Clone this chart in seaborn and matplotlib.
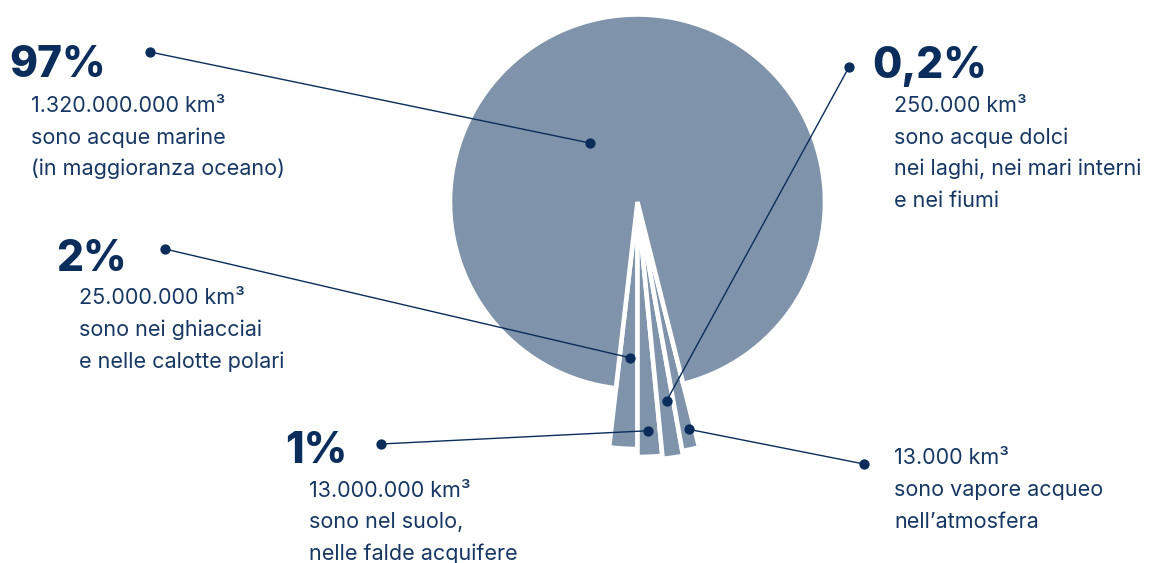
import numpy as np
import pandas as pd
import matplotlib
matplotlib.use("Agg")
import matplotlib.pyplot as plt
import seaborn as sns

# dati: ordine delle fette nel pie (da sinistra a destra nel ventaglio, poi il 97%)
pct_labels = ["2%", "1%", "0,2%", "", "97%"]
volumes = ["25.000.000 km³", "13.000.000 km³", "250.000 km³", "13.000 km³", "1.320.000.000 km³"]
descr = [
    ["sono nei ghiacciai", "e nelle calotte polari"],
    ["sono nel suolo,", "nelle falde acquifere"],
    ["sono acque dolci", "nei laghi, nei mari interni", "e nei fiumi"],
    ["sono vapore acqueo", "nell’atmosfera"],
    ["sono acque marine", "(in maggioranza oceano)"],
]
slice_deg = [6.6, 5.6, 4.6, 3.9, 339.3]  # ampiezza disegnata (non proporzionale)

# layout (pixel, y dall'alto)
W, H = 1155, 563
center = (637.5, H - 202)
r_big = 187.5
r_slices = [247, 255, 258, 253, r_big]
anchor_t = [0.61, 0.49, 0.59, 0.64, 0.604]   # posizione del punto lungo l'arco
anchor_r = [156, 229, 201, 233, 76]
pct_xy = [(56, 271), (285, 463), (872, 78), None, (9, 77)]
body_xy = [(79, 304.3), (309, 496.7), (894, 111.7), (894, 464), (31, 111.7)]
dot_xy = [(165, 249), (381, 444), (849, 67), (864, 464), (150, 52)]
line_gap = 31.8

fill = "#7f93aa"
navy = "#0b2d5b"
txt = "#163763"

sns.set_theme(style="white")
plt.rcParams["font.family"] = ["Inter", "DejaVu Sans"]

fig = plt.figure(figsize=(W / 100, H / 100), dpi=100)
ax = fig.add_axes([0, 0, 1, 1])

wedges, _ = ax.pie(slice_deg, startangle=270 - slice_deg[0], center=center,
                   radius=r_big, colors=[fill] * len(slice_deg),
                   wedgeprops=dict(edgecolor="white", linewidth=3.3))
for w, r in zip(wedges, r_slices):
    w.set_radius(r)

# punti di ancoraggio sulle fette
anchors = []
for w, t, r in zip(wedges, anchor_t, anchor_r):
    a = np.deg2rad(w.theta1 + t * (w.theta2 - w.theta1))
    anchors.append((center[0] + r * np.cos(a), center[1] + r * np.sin(a)))

outer = [(x, H - y) for x, y in dot_xy]
for (x1, y1), (x2, y2) in zip(outer, anchors):
    ax.plot([x1, x2], [y1, y2], color=navy, lw=1.0, zorder=4)

dots = pd.DataFrame(outer + anchors, columns=["x", "y"])
sns.scatterplot(data=dots, x="x", y="y", color=navy, s=55, linewidth=0,
                legend=False, ax=ax, zorder=5)
ax.set_xlim(0, W)
ax.set_ylim(0, H)
ax.set_aspect("equal")
ax.axis("off")

for i in range(len(slice_deg)):
    if pct_xy[i] is not None:
        ax.text(pct_xy[i][0], H - pct_xy[i][1], pct_labels[i], fontsize=30.5,
                fontweight="heavy", color=navy, va="baseline", ha="left")
    bx, by = body_xy[i]
    lines = [volumes[i]] + descr[i]
    for k, s in enumerate(lines):
        ax.text(bx, H - (by + k * line_gap), s, fontsize=15.5, color=txt,
                va="baseline", ha="left")

fig.savefig("out.png", dpi=100)
